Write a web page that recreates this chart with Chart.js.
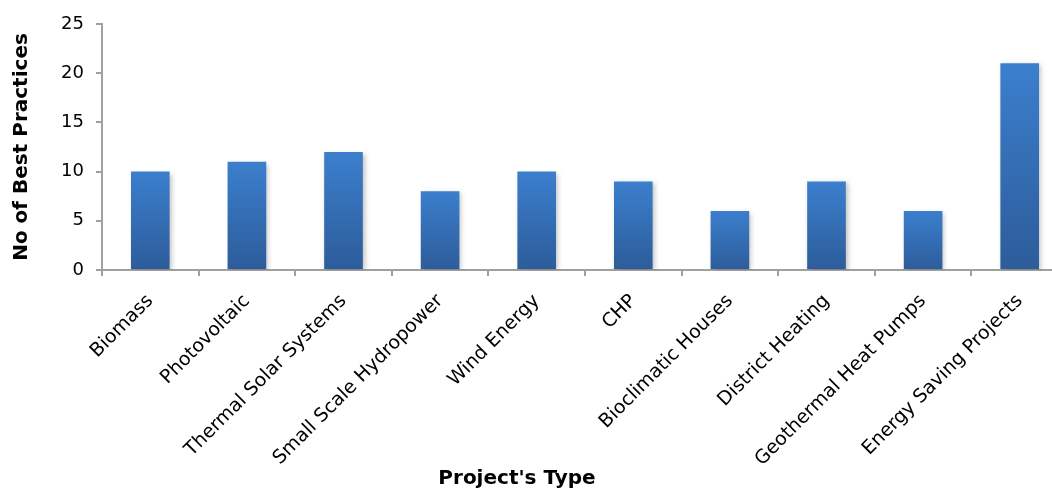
<!DOCTYPE html>
<html>
<head>
<meta charset="utf-8">
<script src="https://cdn.jsdelivr.net/npm/chart.js@4.4.0/dist/chart.umd.min.js"></script>
<style>
  html, body { margin: 0; padding: 0; background: #fff; overflow: hidden; }
  #wrap { width: 1068px; height: 490px; position: relative; }
</style>
</head>
<body>
<div id="wrap"><canvas id="chart"></canvas></div>
<script>
const categories = [
  "Biomass",
  "Photovoltaic",
  "Thermal Solar Systems",
  "Small Scale Hydropower",
  "Wind Energy",
  "CHP",
  "Bioclimatic Houses",
  "District Heating",
  "Geothermal Heat Pumps",
  "Energy Saving Projects",
];
const bestPractices = [10, 11, 12, 8, 10, 9, 6, 9, 6, 21];
const yTicks = [0, 5, 10, 15, 20, 25];
const yTitle = "No of Best Practices";
const xTitle = "Project's Type";

const FONT = "'DejaVu Sans', sans-serif";
const AXIS = "#a0a0a0";

// each bar gets its own top-to-bottom gradient
function barGradient(context) {
  const chart = context.chart;
  if (!chart.chartArea) return "#3470b8";
  const y = chart.scales.y;
  const top = y.getPixelForValue(context.raw);
  const bottom = y.getPixelForValue(0);
  const g = chart.ctx.createLinearGradient(0, top, 0, bottom);
  g.addColorStop(0, "#3b7fcd");
  g.addColorStop(1, "#2d5c9a");
  return g;
}

const barShadow = {
  id: "barShadow",
  beforeDatasetsDraw(chart) {
    const c = chart.ctx;
    c.save();
    c.shadowColor = "rgba(0, 0, 0, 0.25)";
    c.shadowBlur = 5;
    c.shadowOffsetX = 2;
    c.shadowOffsetY = 2;
  },
  afterDatasetsDraw(chart) {
    chart.ctx.restore();
  },
};

// x axis title sits under the visible part of the chart, not the clipped area
const xAxisTitle = {
  id: "xAxisTitle",
  afterDraw(chart) {
    const c = chart.ctx;
    c.save();
    c.font = "bold 20px " + FONT;
    c.fillStyle = "#000";
    c.textAlign = "center";
    c.textBaseline = "middle";
    c.fillText(xTitle, 517, 479);
    c.restore();
  },
};

new Chart(document.getElementById("chart"), {
  type: "bar",
  data: {
    labels: categories,
    datasets: [
      {
        data: bestPractices,
        backgroundColor: barGradient,
        barPercentage: 1,
        categoryPercentage: 0.4,
      },
    ],
  },
  plugins: [barShadow, xAxisTitle],
  options: {
    responsive: true,
    maintainAspectRatio: false,
    animation: false,
    layout: { padding: { top: 24, left: 0, right: 0, bottom: 0 } },
    plugins: {
      legend: { display: false },
      tooltip: { enabled: false },
    },
    scales: {
      x: {
        afterFit: (s) => { s.height = 220; },
        grid: {
          drawOnChartArea: false,
          color: AXIS,
          lineWidth: 2,
          tickLength: 6,
        },
        border: { color: AXIS, width: 2 },
        ticks: {
          autoSkip: false,
          maxRotation: 45,
          minRotation: 45,
          padding: 14,
          color: "#000",
          font: { family: FONT, size: 19 },
        },
      },
      y: {
        min: 0,
        max: 25,
        afterFit: (s) => { s.width = 102; },
        afterBuildTicks: (s) => { s.ticks = yTicks.map((v) => ({ value: v })); },
        grid: {
          drawOnChartArea: false,
          color: AXIS,
          lineWidth: 2,
          tickLength: 6,
        },
        border: { color: AXIS, width: 2 },
        ticks: {
          padding: 12,
          color: "#000",
          font: { family: FONT, size: 18 },
        },
        title: {
          display: true,
          text: yTitle,
          color: "#000",
          padding: { top: 10, bottom: 0 },
          font: { family: FONT, size: 20, weight: "bold" },
        },
      },
    },
  },
});
</script>
</body>
</html>
